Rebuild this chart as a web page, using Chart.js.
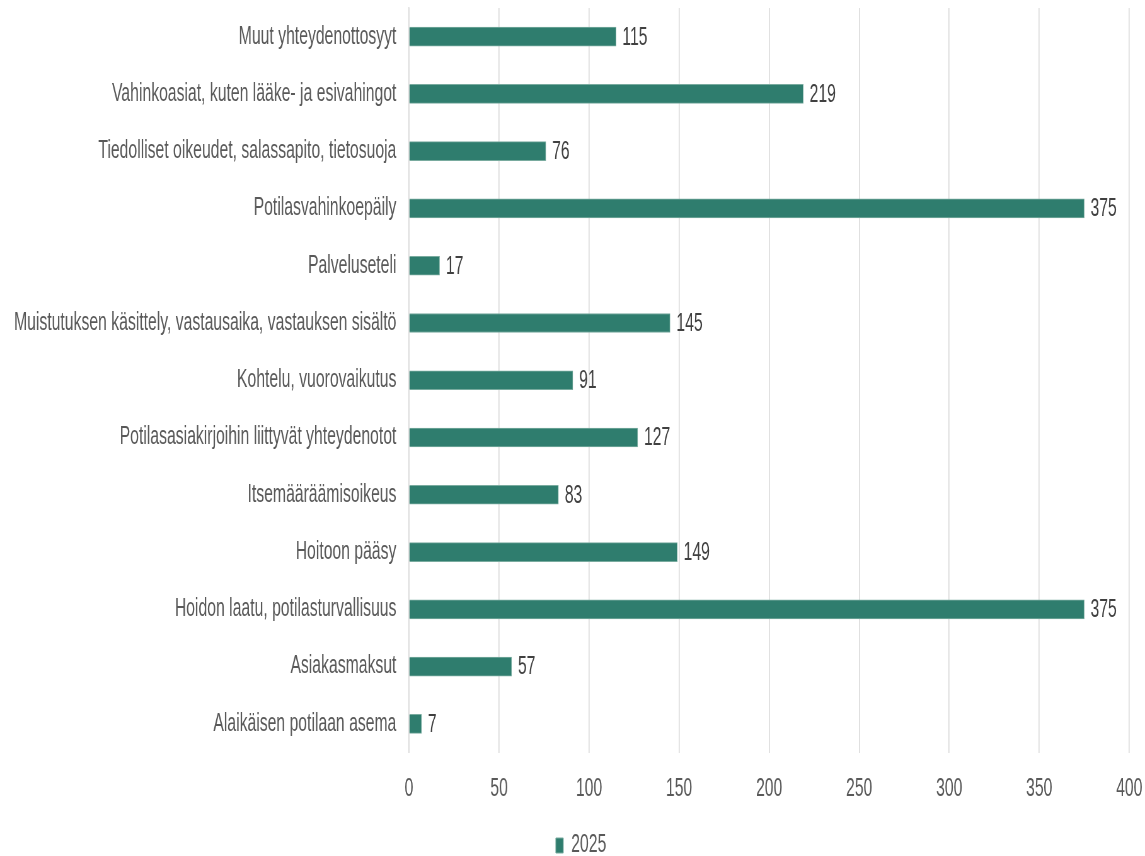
<!DOCTYPE html>
<html>
<head>
<meta charset="utf-8">
<script src="https://cdn.jsdelivr.net/npm/chart.js@4.4.1/dist/chart.umd.min.js"></script>
<style>
    html, body { margin: 0; padding: 0; background: #fff; overflow: hidden; }
    /* drawn on a wider canvas, then squeezed to 1145px for the narrow lettering */
    #wrap { width: 1817px; height: 856px; transform: scaleX(0.63016); transform-origin: 0 0; }
</style>
</head>
<body>
<div id="wrap"><canvas id="chart_aiheet" width="1817" height="856"></canvas></div>
<script>
var categories = [
    'Muut yhteydenottosyyt',
    'Vahinkoasiat, kuten lääke- ja esivahingot',
    'Tiedolliset oikeudet, salassapito, tietosuoja',
    'Potilasvahinkoepäily',
    'Palveluseteli',
    'Muistutuksen käsittely, vastausaika, vastauksen sisältö',
    'Kohtelu, vuorovaikutus',
    'Potilasasiakirjoihin liittyvät yhteydenotot',
    'Itsemääräämisoikeus',
    'Hoitoon pääsy',
    'Hoidon laatu, potilasturvallisuus',
    'Asiakasmaksut',
    'Alaikäisen potilaan asema'
];
var values_2025 = [115, 219, 76, 375, 17, 145, 91, 127, 83, 149, 375, 57, 7];
var seriesLabel = '2025';

var FONT = '"Liberation Sans", Arial, sans-serif';
var TEXT = '#595959';

// value labels at the bar ends
var valueLabels = {
    id: 'valueLabels',
    afterDatasetsDraw(chart) {
        let ctx = chart.ctx;
        ctx.save();
        ctx.font = '25px ' + FONT;
        ctx.fillStyle = '#404040';
        ctx.textAlign = 'left';
        ctx.textBaseline = 'middle';
        chart.getDatasetMeta(0).data.forEach((bar, i) => {
            ctx.fillText(chart.data.datasets[0].data[i], bar.x + 10, bar.y + 1);
        });
        ctx.restore();
    }
};

// legend sits a bit right of the canvas centre
var legendShift = {
    id: 'legendShift',
    beforeDraw(chart) {
        chart.legend.left += 26;
        chart.legend.right += 26;
    }
};

new Chart(document.getElementById('chart_aiheet').getContext('2d'), {
    type: 'bar',
    data: {
        labels: categories,
        datasets: [
            {
                label: seriesLabel,
                data: values_2025,
                backgroundColor: '#2f7d6e',
                borderColor: '#79ab9f',
                borderWidth: 1,
                barThickness: 19,
            }
        ]
    },
    options: {
        indexAxis: 'y',
        responsive: false,
        devicePixelRatio: 1,
        animation: false,
        layout: { padding: { top: 8, right: 25, bottom: -12, left: 0 } },
        scales: {
            x: {
                min: 0,
                max: 400,
                ticks: { stepSize: 50, color: TEXT, font: { family: FONT, size: 25 }, padding: 22 },
                grid: { color: '#d9d9d9', lineWidth: 1.6, drawTicks: false },
                border: { display: false },
                afterFit: (scale) => {
                    scale.paddingLeft = 0;
                    scale.paddingRight = 0;
                }
            },
            y: {
                ticks: { color: TEXT, font: { family: FONT, size: 25 }, padding: 20 },
                grid: { display: false, drawTicks: false },
                border: { color: '#d9d9d9', width: 1.6 },
                afterFit: (scale) => {
                    scale.width = 649;
                    scale.paddingTop = 0;
                    scale.paddingBottom = 0;
                }
            }
        },
        plugins: {
            legend: {
                position: 'bottom',
                labels: {
                    boxWidth: 12,
                    boxHeight: 15,
                    color: TEXT,
                    font: { family: FONT, size: 25 },
                    padding: 6.5
                }
            },
            tooltip: { enabled: false }
        }
    },
    plugins: [valueLabels, legendShift]
});
</script>
</body>
</html>
